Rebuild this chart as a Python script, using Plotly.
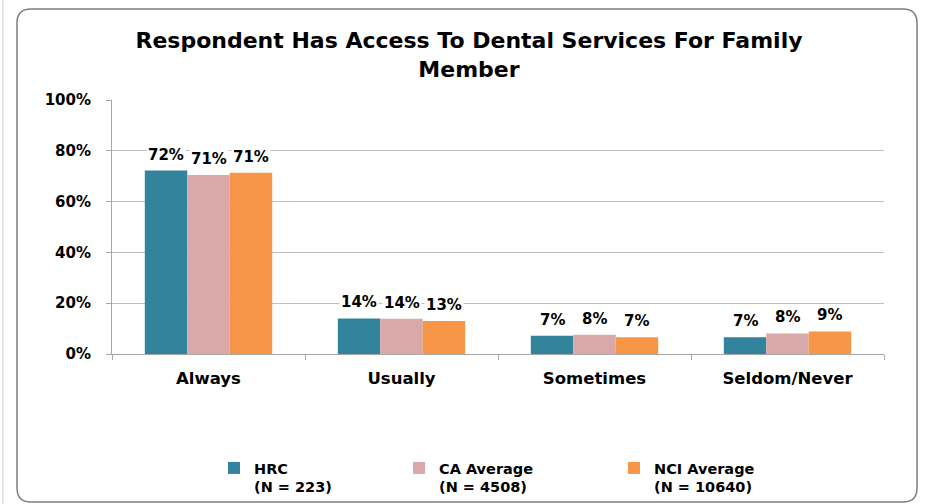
import plotly.graph_objects as go

categories = ["Always", "Usually", "Sometimes", "Seldom/Never"]
series_names = ["HRC<br>(N = 223)", "CA Average<br>(N = 4508)", "NCI Average<br>(N = 10640)"]
hrc = [72.2, 14.0, 7.2, 6.6]
ca = [70.5, 13.9, 7.6, 8.1]
nci = [71.4, 13.0, 6.6, 8.9]
labels_hrc = ["72%", "14%", "7%", "7%"]
labels_ca = ["71%", "14%", "8%", "8%"]
labels_nci = ["71%", "13%", "7%", "9%"]
colors = ["#31849B", "#D9A8A8", "#F79646"]
y_ticks = [0, 20, 40, 60, 80, 100]
y_tick_text = ["0%", "20%", "40%", "60%", "80%", "100%"]

W, H = 925, 504
L, R, T, B = 112, 41, 100, 150
pw, ph = W - L - R, H - T - B
bargap = 0.34

def px_x(p):
    return (p - L) / pw

def px_y(p):
    return (H - B - p) / ph

FONT = "DejaVu Sans"
fig = go.Figure()
series = [hrc, ca, nci]
labels = [labels_hrc, labels_ca, labels_nci]
legend_ids = ["legend", "legend2", "legend3"]
for i, vals in enumerate(series):
    fig.add_trace(go.Bar(
        x=categories, y=vals, name=series_names[i],
        marker=dict(color=colors[i], line=dict(width=0)),
        legend=legend_ids[i], showlegend=True,
    ))

# data labels with white background (cut gridlines like the original)
bar_w = pw / len(categories) * (1 - bargap) / 3
for i, vals in enumerate(series):
    for c, v, t in zip(categories, vals, labels[i]):
        fig.add_annotation(
            x=c, y=v, text=t, showarrow=False, yanchor="bottom",
            xshift=(i - 1) * bar_w, yshift=5,
            bgcolor="white", borderpad=1,
            font=dict(family=FONT, size=15, color="black", weight="bold"),
        )

# outer rounded border
x0, x1 = px_x(17), px_x(917)
y0, y1 = px_y(9), px_y(502)
rx, ry = 14 / pw, 14 / ph
path = (f"M {x0+rx},{y0} L {x1-rx},{y0} Q {x1},{y0} {x1},{y0-ry} "
        f"L {x1},{y1+ry} Q {x1},{y1} {x1-rx},{y1} L {x0+rx},{y1} "
        f"Q {x0},{y1} {x0},{y1+ry} L {x0},{y0-ry} Q {x0},{y0} {x0+rx},{y0} Z")
fig.add_shape(type="path", path=path, xref="paper", yref="paper",
              line=dict(color="#7F7F7F", width=1.5), layer="below")
fig.add_shape(type="line", x0=px_x(3), x1=px_x(3), y0=px_y(0), y1=px_y(504),
              xref="paper", yref="paper", line=dict(color="#C8C8C8", width=1))

legend_common = dict(
    orientation="v", yanchor="top", xanchor="left", valign="top",
    font=dict(family=FONT, size=14.5, color="black", weight="bold"),
    bgcolor="rgba(0,0,0,0)", itemwidth=30, tracegroupgap=0,
)
legend_x_px = [214, 399, 614]
layout_legends = {}
for lid, lx in zip(legend_ids, legend_x_px):
    layout_legends[lid] = dict(legend_common, x=px_x(lx), y=px_y(452))

fig.update_layout(
    width=W, height=H,
    margin=dict(l=L, r=R, t=T, b=B, autoexpand=False),
    paper_bgcolor="white", plot_bgcolor="white",
    barmode="group", bargap=bargap, bargroupgap=0,
    title=dict(
        text="Respondent Has Access To Dental Services For Family<br>Member",
        x=469 / W, xanchor="center", y=1 - 48 / H, yanchor="middle",
        font=dict(family=FONT, size=22, color="black", weight="bold"),
    ),
    xaxis=dict(
        showline=True, linecolor="#A6A6A6", linewidth=1,
        ticks="outside", tickson="boundaries", ticklen=5, tickcolor="#A6A6A6",
        tickfont=dict(family=FONT, size=16.5, color="black", weight="bold"),
        ticklabelstandoff=9,
    ),
    yaxis=dict(
        range=[0, 100], tickvals=y_ticks, ticktext=y_tick_text,
        showline=True, linecolor="#A6A6A6", linewidth=1,
        showgrid=True, gridcolor="#C0C0C0", gridwidth=1,
        ticks="outside", ticklen=5, tickcolor="#A6A6A6",
        tickfont=dict(family=FONT, size=15, color="black", weight="bold"),
        ticklabelstandoff=12, zeroline=False,
    ),
    **layout_legends,
)

fig.write_html("out.html", config={"displayModeBar": False},
               post_script="document.body.style.margin='0px';")
